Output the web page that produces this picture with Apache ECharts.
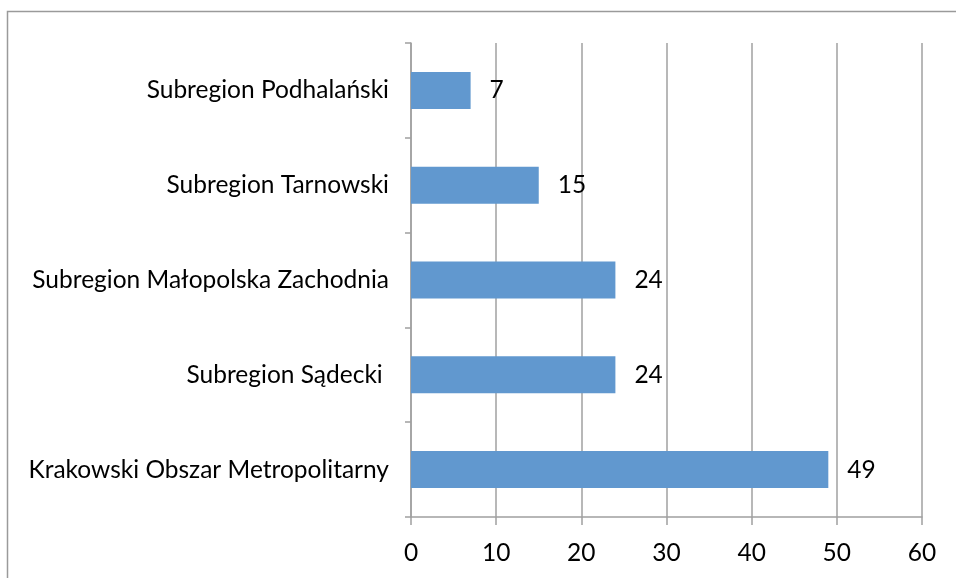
<!DOCTYPE html>
<html>
<head>
<meta charset="utf-8">
<script src="https://cdn.jsdelivr.net/npm/echarts@6/dist/echarts.min.js"></script>
<style>
  html, body { margin: 0; padding: 0; background: #fff; }
  #chart { width: 956px; height: 578px; }
</style>
</head>
<body>
<div id="chart"></div>
<script>
// dane z wykresu (od dołu do góry)
const categories = [
    'Krakowski Obszar Metropolitarny',
    'Subregion Sądecki ',
    'Subregion Małopolska Zachodnia',
    'Subregion Tarnowski',
    'Subregion Podhalański'
];
const values = [49, 24, 24, 15, 7];
const axisTicks = [0, 10, 20, 30, 40, 50, 60];

const font = 'Lato, "Open Sans", sans-serif';
const chart = echarts.init(document.getElementById('chart'));

chart.setOption({
    animation: false,
    backgroundColor: '#fff',
    graphic: [{
        type: 'rect',
        left: 5,
        top: 9,
        shape: { width: 1000, height: 600 },
        style: { fill: 'none', stroke: '#9a9a9a', lineWidth: 1.5 },
        silent: true
    }],
    grid: {
        left: 411,
        right: 34,
        top: 43,
        bottom: 61
    },
    xAxis: {
        type: 'value',
        min: axisTicks[0],
        max: axisTicks[axisTicks.length - 1],
        interval: 10,
        axisLine: { show: true, lineStyle: { color: '#a0a0a0', width: 1.5 } },
        axisTick: { show: true, length: 8, lineStyle: { color: '#a0a0a0', width: 1.5 } },
        splitLine: { show: true, lineStyle: { color: '#a0a0a0', width: 1.5 } },
        axisLabel: { color: '#000', fontSize: 24.5, fontFamily: font, margin: 24 }
    },
    yAxis: {
        type: 'category',
        data: categories,
        axisLine: { show: true, lineStyle: { color: '#a0a0a0', width: 1.5 } },
        axisTick: { show: true, length: 6, lineStyle: { color: '#a0a0a0', width: 1.5 } },
        axisLabel: { color: '#000', fontSize: 24.5, fontFamily: font, margin: 22 }
    },
    series: [{
        type: 'bar',
        data: values,
        barWidth: '39%',
        itemStyle: { color: '#6198cf' },
        label: {
            show: true,
            position: 'right',
            distance: 19,
            color: '#000',
            fontSize: 24.5,
            fontFamily: font
        }
    }]
});
</script>
</body>
</html>
